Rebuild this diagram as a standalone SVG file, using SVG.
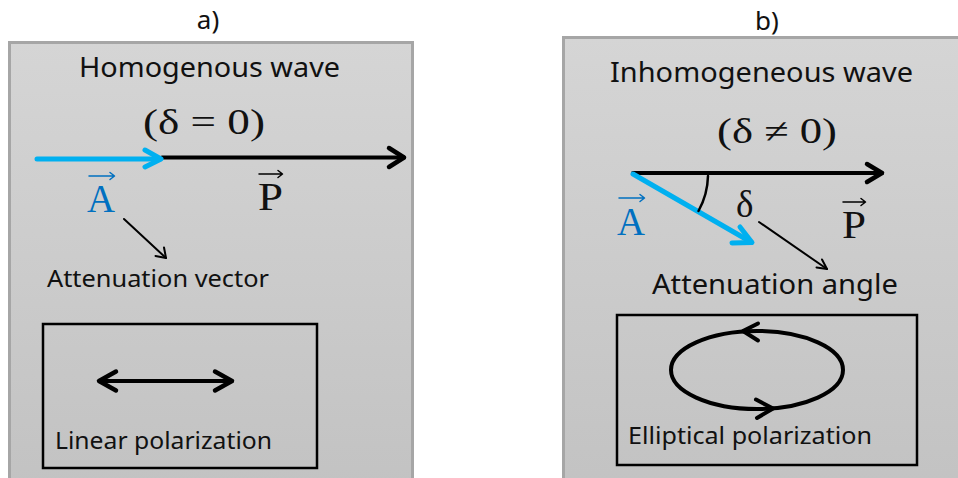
<svg xmlns="http://www.w3.org/2000/svg" width="958" height="478" viewBox="0 0 958 478">
<defs>
<linearGradient id="bg" x1="0" y1="0" x2="0" y2="1">
<stop offset="0" stop-color="#d5d5d5"/>
<stop offset="1" stop-color="#c2c2c2"/>
</linearGradient>
<style>
.panel{fill:url(#bg);stroke:#a6a6a6;stroke-width:3}
.t{font-family:"Noto Sans","Open Sans","Liberation Sans",sans-serif;fill:#111}
.m{font-family:"Liberation Serif","DejaVu Serif",serif;fill:#111}
.blueT{fill:#0070c0}
.bk{stroke:#000;fill:none;stroke-linecap:round;stroke-linejoin:round}
.bl{stroke:#00b0f0;fill:none;stroke-linecap:round;stroke-linejoin:round}
.box{fill:none;stroke:#000;stroke-width:2.5}
</style>
</defs>
<rect width="958" height="478" fill="#fff"/>
<text class="t" x="208" y="29" font-size="26" text-anchor="middle">a)</text>
<text class="t" x="767" y="30" font-size="26" text-anchor="middle">b)</text>

<g id="panel-a">
<rect class="panel" x="9.5" y="42.5" width="403" height="450"/>
<text class="t" x="79" y="77" font-size="27" textLength="261" lengthAdjust="spacingAndGlyphs">Homogenous wave</text>
<text class="m" x="143" y="134" font-size="35" textLength="122" lengthAdjust="spacingAndGlyphs">(δ = 0)</text>
</g>

<g id="vector-A-a">
<text class="m blueT" x="87" y="212" font-size="39" textLength="28" lengthAdjust="spacingAndGlyphs">A</text>
<path class="bk" d="M89 176 H114 M110 172.5 L114.5 176 L110 179.5" style="stroke:#0070c0;stroke-width:1.5"/>
</g>
<g id="vector-P-a">
<text class="m" x="258" y="210" font-size="39" textLength="25" lengthAdjust="spacingAndGlyphs">P</text>
<path class="bk" d="M259 174 H282 M278 170.5 L282.5 174 L278 177.5" style="stroke-width:1.5"/>
</g>
<g id="label-attn-vector">
<text class="t" x="47" y="287" font-size="23" textLength="222" lengthAdjust="spacingAndGlyphs">Attenuation vector</text>
</g>
<g id="box-linear">
<rect class="box" x="43" y="324" width="274" height="144"/>
<text class="t" x="55" y="449" font-size="23" textLength="217" lengthAdjust="spacingAndGlyphs">Linear polarization</text>
</g>

<g id="panel-b">
<rect class="panel" x="563.5" y="37.5" width="410" height="460"/>
<text class="t" x="610" y="82" font-size="27" textLength="303" lengthAdjust="spacingAndGlyphs">Inhomogeneous wave</text>
<text class="m" x="717" y="143" font-size="35" textLength="120" lengthAdjust="spacingAndGlyphs">(δ ≠ 0)</text>
<text class="m" x="736" y="217" font-size="37">δ</text>
</g>
<g id="vector-A-b">
<text class="m blueT" x="617" y="235" font-size="39" textLength="28" lengthAdjust="spacingAndGlyphs">A</text>
<path class="bk" d="M619 198 H644 M640 194.5 L644.5 198 L640 201.5" style="stroke:#0070c0;stroke-width:1.5"/>
</g>
<g id="vector-P-b">
<text class="m" x="842" y="238" font-size="39" textLength="24" lengthAdjust="spacingAndGlyphs">P</text>
<path class="bk" d="M843 202 H865 M861 198.5 L865.5 202 L861 205.5" style="stroke-width:1.5"/>
</g>
<g id="label-attn-angle">
<text class="t" x="652" y="294" font-size="27" textLength="246" lengthAdjust="spacingAndGlyphs">Attenuation angle</text>
</g>
<g id="box-elliptical">
<rect class="box" x="617" y="315" width="300" height="150"/>
<text class="t" x="628" y="444" font-size="23" textLength="244" lengthAdjust="spacingAndGlyphs">Elliptical polarization</text>
</g>

<g id="connectors">
<path class="bk" d="M162 157.5 H404" style="stroke-width:4"/>
<path class="bk" d="M389 148 L404 157.5 L389 167" style="stroke-width:4.5"/>
<path class="bl" d="M37 159 H160" style="stroke-width:5"/>
<path class="bl" d="M145 150 L161 159 L145 167" style="stroke-width:5"/>
<path class="bk" d="M124 219 L166 258" style="stroke-width:2"/>
<path class="bk" d="M155.5 256 L166 258 L164 247.5" style="stroke-width:2"/>
<path class="bk" d="M100 381 H232" style="stroke-width:4"/>
<path class="bk" d="M116 371.5 L99 381 L116 390.5 M215 371.5 L232 381 L215 390.5" style="stroke-width:4.5"/>
<path class="bk" d="M633 173 H882" style="stroke-width:4"/>
<path class="bk" d="M867 164 L882 173 L867 182" style="stroke-width:4.5"/>
<path class="bl" d="M633 174 L751 242" style="stroke-width:5"/>
<path class="bl" d="M740 227 L752 242.5 L732 243" style="stroke-width:5"/>
<path class="bk" d="M708 176 A76 76 0 0 1 698.5 211" style="stroke-width:2.5"/>
<path class="bk" d="M759 222 L827 269" style="stroke-width:2"/>
<path class="bk" d="M816.5 267.5 L827 269 L822 259.5" style="stroke-width:2"/>
<ellipse cx="757" cy="370" rx="86" ry="39" fill="none" stroke="#000" stroke-width="4"/>
<path class="bk" d="M758 323.5 L743 331 L758 340.5" style="stroke-width:4"/>
<path class="bk" d="M756 399.5 L773 408.5 L757 418" style="stroke-width:4"/>
</g>
</svg>
